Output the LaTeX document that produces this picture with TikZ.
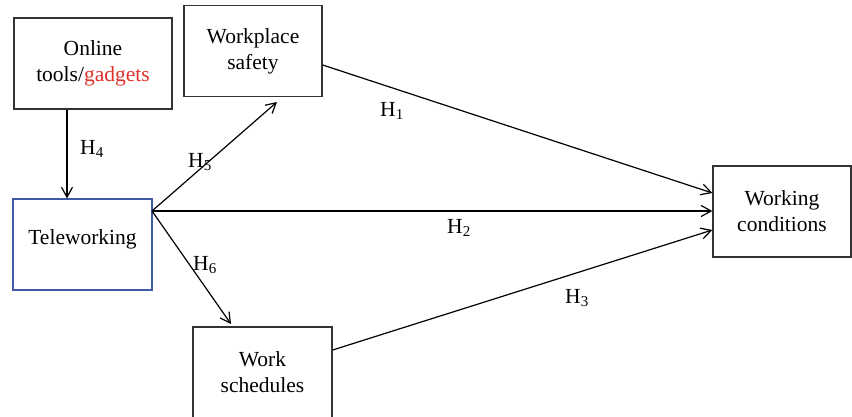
\documentclass[tikz,border=0pt]{standalone}
\usepackage{fontspec}
\setmainfont{Liberation Serif}
\usetikzlibrary{arrows.meta,calc}
\definecolor{boxgray}{HTML}{333333}
\definecolor{gadred}{HTML}{E0302A}
\definecolor{teleblue}{HTML}{3F5AA8}
\begin{document}
\begin{tikzpicture}[x=1pt,y=-1pt,
  box/.style={draw=boxgray,line width=1.3pt,minimum height=91pt,align=center,inner sep=2pt,
    font=\fontsize{21.5}{26}\selectfont},
  conn/.style={line width=1.2pt,-{Straight Barb[length=10pt,width=11pt,line width=1.2pt]}},
  hlab/.style={font=\fontsize{21.5}{24}\selectfont,inner sep=0pt}]
\useasboundingbox (0,0) rectangle (852,417);
\node[box,minimum width=158pt] (online) at (93,63.5) {Online\\tools/\textcolor{gadred}{gadgets}};
\node[box,minimum width=138pt] (safety) at (253,51) {Workplace\\safety};
\node[box,draw=teleblue,line width=1.1pt,minimum width=139pt] (tele) at (82.5,244.5) {\smash{Teleworking}};
\node[box,minimum width=138pt] (wc) at (782,211.5) {Working\\conditions};
\node[box,minimum width=139pt] (ws) at (262.5,372.5) {Work\\schedules};
\coordinate (src) at (152,211);
\coordinate (h5end) at (277,102);
\coordinate (h6end) at (231,324);
\draw[conn] (online.south -| 67,0) -- (tele.north -| 67,0);
\draw[conn] (src) -- (h5end);
\draw[conn] (src) -- (h6end);
\draw[conn] (src) -- (src -| wc.west);
\draw[conn] (safety.east |- 0,65) -- (wc.west |- 0,193);
\draw[conn] (ws.east |- 0,350) -- (wc.west |- 0,230);
\node[hlab] (l1) at (392,111) {H\textsubscript{1}};
\node[hlab] (l2) at (459,228) {H\textsubscript{2}};
\node[hlab] (l3) at (577,298) {H\textsubscript{3}};
\node[hlab] (l4) at (92,149) {H\textsubscript{4}};
\node[hlab] (l5) at (200,162) {H\textsubscript{5}};
\node[hlab] (l6) at (205,265) {H\textsubscript{6}};
\end{tikzpicture}
\end{document}
